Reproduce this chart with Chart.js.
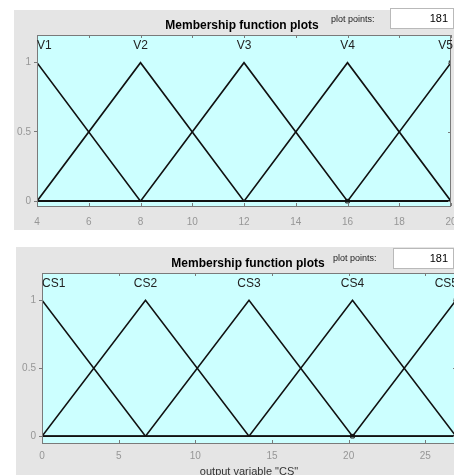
<!DOCTYPE html>
<html>
<head>
<meta charset="utf-8">
<title>Membership function plots</title>
<script src="https://cdn.jsdelivr.net/npm/chart.js@4.4.0/dist/chart.umd.min.js"></script>
<style>
  html, body { margin: 0; padding: 0; width: 454px; height: 475px; overflow: hidden; background: #ffffff;
    font-family: "Liberation Sans", Arial, Helvetica, sans-serif; }
  .panel { position: absolute; background: #e5e5e5; }
  canvas { position: absolute; left: 0; }
  .title { position: absolute; font-weight: bold; font-size: 12px; color: #000; white-space: nowrap;
    transform: translate(-50%, -50%); }
  .pp { position: absolute; font-size: 9px; color: #222; white-space: nowrap; transform: translateY(-50%); }
  .box { position: absolute; background: #fff; border: 1px solid #b9b9b9; box-sizing: border-box;
    font-size: 11px; color: #000; text-align: right; padding-right: 5px; will-change: transform; }
</style>
</head>
<body>
<div class="panel" style="left:14px;top:10px;width:440px;height:220px"></div>
<div class="panel" style="left:16px;top:247px;width:438px;height:228px"></div>

<canvas id="inputPlot" width="470" height="232" style="top:0"></canvas>
<canvas id="outputPlot" width="470" height="240" style="top:240px"></canvas>

<div class="title" style="left:242px;top:25px">Membership function plots</div>
<div class="pp" style="left:331px;top:19px">plot points:</div>
<div class="box" style="left:390px;top:8px;width:64px;height:21px;line-height:19px">181</div>

<div class="title" style="left:248px;top:263px">Membership function plots</div>
<div class="pp" style="left:333px;top:258px">plot points:</div>
<div class="box" style="left:393px;top:248px;width:61px;height:21px;line-height:19px">181</div>

<script>
// ---- input variable "V": five triangular membership functions ----
const vNames = ['V1', 'V2', 'V3', 'V4', 'V5'];
const vPeaks = [4, 8, 12, 16, 20];
const v1X = [4, 8, 20],          v1Y = [1, 0, 0];
const v2X = [4, 8, 12, 20],      v2Y = [0, 1, 0, 0];
const v3X = [4, 8, 12, 16, 20],  v3Y = [0, 0, 1, 0, 0];
const v4X = [4, 12, 16, 20],     v4Y = [0, 0, 1, 0];
const v5X = [4, 16, 20],         v5Y = [0, 0, 1];
const vMarkX = [16, 20], vMarkY = [0, 1];
const vTicksX = [4, 6, 8, 10, 12, 14, 16, 18, 20];

// ---- output variable "CS": five triangular membership functions ----
const csNames = ['CS1', 'CS2', 'CS3', 'CS4', 'CS5'];
const csPeaks = [0, 6.75, 13.5, 20.25, 27];
const cs1X = [0, 6.75, 27],                cs1Y = [1, 0, 0];
const cs2X = [0, 6.75, 13.5, 27],          cs2Y = [0, 1, 0, 0];
const cs3X = [0, 6.75, 13.5, 20.25, 27],   cs3Y = [0, 0, 1, 0, 0];
const cs4X = [0, 13.5, 20.25, 27],         cs4Y = [0, 0, 1, 0];
const cs5X = [0, 20.25, 27],               cs5Y = [0, 0, 1];
const csMarkX = [20.25, 27], csMarkY = [0, 1];
const csTicksX = [0, 5, 10, 15, 20, 25];

const membershipTicks = [0, 0.5, 1];
const nameLevel = 1.12;

const FONT = '"Liberation Sans", Arial, Helvetica, sans-serif';
const LINE = '#111111';
const TICK_TEXT = '#969696';
const BOX = '#7a7a7a';

function pts(xs, ys) { return xs.map((x, i) => ({ x: x, y: ys[i] })); }

// axes background, box outline, inward tick marks and MF names
const mfDecor = {
  id: 'mfDecor',
  beforeDatasetsDraw(chart) {
    const a = chart.chartArea, c = chart.ctx;
    c.save();
    c.fillStyle = '#ccffff';
    c.fillRect(a.left, a.top, a.right - a.left, a.bottom - a.top);
    c.restore();
  },
  afterDatasetsDraw(chart, args, opts) {
    const a = chart.chartArea, c = chart.ctx;
    const xs = chart.scales.x, ys = chart.scales.y;
    c.save();
    c.strokeStyle = BOX;
    c.lineWidth = 1;
    c.strokeRect(Math.round(a.left) + 0.5, Math.round(a.top) + 0.5,
                 Math.round(a.right - a.left) - 1, Math.round(a.bottom - a.top));
    c.beginPath();
    xs.ticks.forEach(t => {
      const px = Math.round(xs.getPixelForValue(t.value)) + 0.5;
      c.moveTo(px, a.bottom); c.lineTo(px, a.bottom - 3);
      c.moveTo(px, a.top); c.lineTo(px, a.top + 3);
    });
    ys.ticks.forEach(t => {
      const py = Math.round(ys.getPixelForValue(t.value)) + 0.5;
      c.moveTo(a.right, py); c.lineTo(a.right - 3, py);
    });
    c.stroke();

    c.fillStyle = '#222';
    c.font = '12px ' + FONT;
    c.textBaseline = 'middle';
    const y = ys.getPixelForValue(nameLevel);
    opts.names.forEach((n, i) => {
      const px = xs.getPixelForValue(opts.peaks[i]);
      if (i === 0) { c.textAlign = 'left'; c.fillText(n, px, y); }
      else if (i === opts.names.length - 1) { c.textAlign = 'right'; c.fillText(n, px + 2, y); }
      else { c.textAlign = 'center'; c.fillText(n, px, y); }
    });
    c.restore();
  }
};

function makePlot(id, spec) {
  const datasets = spec.curves.map(cv => ({
    data: pts(cv[0], cv[1]),
    showLine: true,
    borderColor: LINE,
    borderWidth: 1.6,
    pointRadius: 0,
    fill: false,
    tension: 0
  }));
  datasets.push({
    data: pts(spec.markX, spec.markY),
    showLine: false,
    pointStyle: 'rect',
    pointRadius: 2.5,
    borderColor: LINE,
    borderWidth: 1,
    backgroundColor: 'rgba(0,0,0,0)'
  });

  return new Chart(document.getElementById(id), {
    type: 'scatter',
    data: { datasets: datasets },
    plugins: [mfDecor],
    options: {
      responsive: false,
      animation: false,
      events: [],
      layout: { padding: { left: 0, top: spec.padTop, right: spec.padRight, bottom: 0 } },
      plugins: {
        legend: { display: false },
        tooltip: { enabled: false },
        mfDecor: { names: spec.names, peaks: spec.peaks }
      },
      scales: {
        x: {
          type: 'linear',
          min: spec.xMin, max: spec.xMax,
          afterBuildTicks: s => { s.ticks = spec.ticksX.map(v => ({ value: v })); },
          afterFit: s => { s.height = spec.xAxisH; s.paddingLeft = 0; s.paddingRight = 0; },
          grid: { display: false, drawTicks: false },
          border: { display: false },
          ticks: { color: TICK_TEXT, font: { size: 10, family: FONT }, padding: spec.xLabelPad,
                   maxRotation: 0, autoSkip: false, callback: v => String(v) },
          title: spec.xTitle ? {
            display: true, text: spec.xTitle, color: '#333',
            font: { size: 11, family: FONT }, padding: { top: 0, bottom: 1 }
          } : { display: false }
        },
        y: {
          type: 'linear',
          min: spec.yMin, max: spec.yMax,
          afterBuildTicks: s => { s.ticks = membershipTicks.map(v => ({ value: v })); },
          afterFit: s => { s.width = spec.yAxisW; s.paddingTop = 0; s.paddingBottom = 0; },
          grid: { drawOnChartArea: false, drawTicks: true, tickLength: 3, color: BOX },
          border: { display: false },
          ticks: { color: TICK_TEXT, font: { size: 10, family: FONT }, padding: 3,
                   callback: v => String(v) }
        }
      }
    }
  });
}

makePlot('inputPlot', {
  curves: [[v1X, v1Y], [v2X, v2Y], [v3X, v3Y], [v4X, v4Y], [v5X, v5Y]],
  markX: vMarkX, markY: vMarkY,
  names: vNames, peaks: vPeaks, ticksX: vTicksX,
  xMin: 4, xMax: 20, yMin: -0.035, yMax: 1.2,
  padTop: 35, padRight: 19, yAxisW: 37, xAxisH: 26, xLabelPad: 10
});

makePlot('outputPlot', {
  curves: [[cs1X, cs1Y], [cs2X, cs2Y], [cs3X, cs3Y], [cs4X, cs4Y], [cs5X, cs5Y]],
  markX: csMarkX, markY: csMarkY,
  names: csNames, peaks: csPeaks, ticksX: csTicksX,
  xMin: 0, xMax: 27, yMin: -0.05, yMax: 1.2,
  padTop: 33, padRight: 14, yAxisW: 42, xAxisH: 37, xLabelPad: 7,
  xTitle: 'output variable "CS"'
});
</script>
</body>
</html>
